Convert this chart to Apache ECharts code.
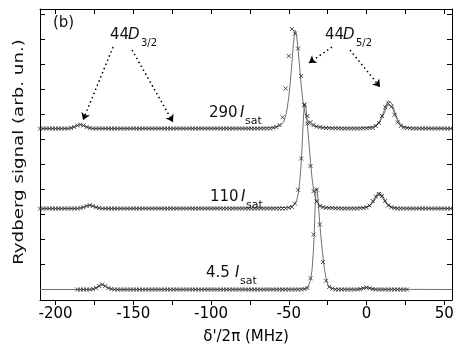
<!DOCTYPE html>
<html>
<head>
<meta charset="utf-8">
<script src="https://cdn.jsdelivr.net/npm/echarts@6.0.0/dist/echarts.min.js"></script>
<style>
html, body { margin: 0; padding: 0; background: #fff; }
#main { width: 463px; height: 354px; }
</style>
</head>
<body>
<div id="main"></div>
<script>
(function () {
    'use strict';

    // measured scans: one point every 2 MHz, signal relative to own baseline
    var scanStep = 2;
    var start290 = -210, start110 = -210, start45 = -186;

    var sig290 = [
        0,0,0,0,0,0,0,0,0,0,                          // -210 .. -192
        0.02,0.06,0.12,0.15,0.12,0.06,0.02,           // -190 .. -178
        0,0,0,0,0,0,0,0,0,0, 0,0,0,0,0,0,0,0,0,0,
        0,0,0,0,0,0,0,0,0,0, 0,0,0,0,0,0,0,0,0,0,
        0,0,0,0,0,0,0,0,0,0, 0,0,0,0,0,0,0,0,        // -176 .. -62
        0.03,0.06,0.14,0.45,1.6,2.9,3.98,3.8,3.2,2.1,
        0.95,0.5,0.25,0.14,0.08,0.05,0.03,            // -60 .. -28
        0.02,0.02,0.01,0.01,0.01,0,0,0,0,0,0,0,0.01,0.01,0.02, // -26 .. 2
        0.03,0.1,0.22,0.5,0.85,1.0,0.88,0.55,0.25,0.1,0.04,    // 4 .. 24
        0.02,0.01,0,0,0,0,0,0,0,0,0,0,0,0,0           // 26 .. 54
    ];

    var sig110 = [
        0,0,0,0,0,0,0,0,0,0,0,0,0,                    // -210 .. -186
        0.02,0.05,0.1,0.13,0.1,0.05,0.02,             // -184 .. -172
        0,0,0,0,0,0,0,0,0,0, 0,0,0,0,0,0,0,0,0,0,
        0,0,0,0,0,0,0,0,0,0, 0,0,0,0,0,0,0,0,0,0,
        0,0,0,0,0,0,0,0,0,0, 0,0,0,0,0,0,0,0,0,0,    // -170 .. -52
        0.03,0.06,0.2,0.75,2.0,4.15,3.4,1.7,0.7,0.28,0.1,0.05, // -50 .. -28
        0.03,0.02,0.02,0.01,0.01,0,0,0,0,0,0,0.01,    // -26 .. -4
        0.02,0.05,0.12,0.3,0.48,0.58,0.5,0.3,0.12,0.05,0.02,   // -2 .. 18
        0,0,0,0,0,0,0,0,0,0, 0,0,0,0,0,0,0,0          // 20 .. 54
    ];

    var sig45 = [
        0,0,0,0,0,                                    // -186 .. -178
        0.02,0.06,0.14,0.2,0.14,0.06,0.02,            // -176 .. -164
        0,0,0,0,0,0,0,0,0,0, 0,0,0,0,0,0,0,0,0,0,
        0,0,0,0,0,0,0,0,0,0, 0,0,0,0,0,0,0,0,0,0,
        0,0,0,0,0,0,0,0,0,0, 0,0,0,0,0,0,0,0,0,0, 0,  // -162 .. -42
        0.02,0.06,0.45,2.2,4.0,2.6,1.1,0.35,0.1,0.04, // -40 .. -22
        0,0,0,0,0,0,0,0,                              // -20 .. -6
        0.02,0.05,0.08,0.05,0.02,                     // -4 .. 4
        0,0,0,0,0,0,0,0,0,0,0                         // 6 .. 26
    ];

    // vertical offsets of the three traces
    var off290 = 6.44, off110 = 3.24, off45 = 0;

    // fitted curves [MHz, signal]
    var fit290 = [[-210,0],[-192,0],[-190,0.02],[-188,0.06],[-186,0.12],[-184,0.16],[-182,0.12],[-180,0.06],[-178,0.02],[-176,0],
        [-70,0.01],[-60,0.04],[-56,0.1],[-54,0.2],[-53,0.3],[-52,0.5],[-51,0.8],[-50,1.25],[-49,1.85],[-48,2.6],[-47,3.4],[-46,3.94],
        [-45,3.75],[-44,3.15],[-43,2.45],[-42,1.75],[-41,1.15],[-40,0.75],[-39,0.48],[-38,0.32],[-36,0.16],[-33,0.08],[-28,0.04],
        [-20,0.02],[-5,0.02],[0,0.03],[4,0.07],[6,0.13],[8,0.26],[9,0.37],[10,0.5],[11,0.66],[12,0.83],[13,0.99],[14,1.1],[14.5,1.14],
        [15,1.12],[16,1.03],[17,0.89],[18,0.71],[19,0.53],[20,0.37],[21,0.25],[22,0.16],[24,0.07],[27,0.03],[35,0.01],[55,0]];
    var fit290b = [[0,0.03],[4,0.06],[6,0.11],[8,0.22],[10,0.43],[11,0.56],[12,0.71],[13,0.85],[14,0.95],[14.5,0.98],[15,0.97],
        [16,0.89],[17,0.77],[18,0.61],[19,0.46],[20,0.32],[22,0.14],[24,0.06],[28,0.02]];

    var fit110 = [[-210,0],[-186,0],[-184,0.02],[-182,0.05],[-180,0.1],[-178,0.13],[-176,0.1],[-174,0.05],[-172,0.02],[-170,0],
        [-60,0.02],[-50,0.05],[-47,0.12],[-45,0.3],[-44,0.55],[-43,1.05],[-42,1.8],[-41.5,2.4],[-41,3.05],[-40.5,3.7],[-40,4.1],
        [-39.5,4.2],[-39,4.05],[-38.5,3.75],[-38,3.35],[-37,2.6],[-36,1.85],[-35,1.2],[-34,0.75],[-33,0.45],[-32,0.28],[-30,0.12],
        [-27,0.05],[-20,0.02],[-8,0.02],[-3,0.03],[0,0.06],[2,0.12],[3,0.18],[4,0.26],[5,0.36],[6,0.48],[7,0.6],[7.5,0.66],[8,0.68],
        [9,0.64],[10,0.55],[11,0.44],[12,0.32],[13,0.22],[14,0.14],[16,0.06],[19,0.02],[25,0.01],[55,0]];
    var fit110b = [[-2,0.03],[2,0.1],[4,0.22],[5,0.3],[6,0.4],[7,0.5],[8,0.56],[9,0.53],[10,0.45],[11,0.36],[12,0.26],[13,0.18],
        [14,0.12],[16,0.05],[20,0.01]];

    var fit45 = [[-210,0],[-178,0],[-175,0.03],[-173,0.08],[-172,0.13],[-171,0.18],[-170,0.2],[-169,0.18],[-168,0.13],[-167,0.08],
        [-165,0.03],[-162,0],[-45,0.01],[-40,0.03],[-38,0.07],[-37,0.15],[-36,0.35],[-35,0.8],[-34,1.7],[-33.5,2.5],[-33,3.35],
        [-32.5,3.95],[-32,4.05],[-31.5,3.85],[-31,3.45],[-30,2.6],[-29,1.9],[-28,1.3],[-27,0.8],[-26,0.45],[-25,0.22],[-24,0.11],
        [-22,0.04],[-18,0.01],[-6,0.01],[-3,0.04],[-1,0.09],[0,0.11],[1,0.09],[3,0.04],[6,0.01],[55,0]];
    var fit45b = [[-6,0.01],[-3,0.03],[-1,0.06],[0,0.07],[1,0.06],[3,0.03],[6,0.01]];

    var xTicks = [-200,-175,-150,-125,-100,-75,-50,-25,0,25,50];
    var xLabels = [-200,-150,-100,-50,0,50];
    var yTicks = [0,1,2,3,4,5,6,7,8,9,10,11];

    // dotted arrows, data coords [from, to]
    var arrows = [
        [[-163,9.7],[-182.3,6.78]],
        [[-150.8,9.58],[-124.5,6.7]],
        [[-22.2,9.7],[-37,9.06]],
        [[-10.6,9.58],[8.7,8.1]]
    ];

    var FONT = '"DejaVu Sans"';

    function scan(start, sig, off) {
        return sig.map(function (v, i) { return [start + i * scanStep, v + off]; });
    }
    function shift(pts, off) {
        return pts.map(function (p) { return [p[0], p[1] + off]; });
    }
    function fitLine(pts, off) {
        return {
            type: 'line', data: shift(pts, off), symbol: 'none', showSymbol: false,
            lineStyle: { color: '#707070', width: 1 }, silent: true, animation: false, z: 2
        };
    }
    function markers(pts) {
        return {
            type: 'scatter', data: pts, symbol: 'path://M0,0L10,10M10,0L0,10', symbolSize: 4,
            itemStyle: { color: 'none', borderColor: '#222', borderWidth: 1 },
            silent: true, animation: false, z: 3
        };
    }
    function txt(x, y, s, size, italic) {
        return {
            type: 'text', x: x, y: y, silent: true,
            style: {
                text: s, font: (italic ? 'italic ' : '') + size + 'px ' + FONT, fill: '#111',
                textAlign: 'left', align: 'left', textVerticalAlign: 'middle', verticalAlign: 'middle'
            }
        };
    }

    var dom = document.getElementById('main');
    var myChart = echarts.init(dom, null, { renderer: 'canvas' });

    var axisLine = { show: true, onZero: false, lineStyle: { color: '#000', width: 1 } };

    var fit45Series = fitLine(fit45, off45);
    fit45Series.markLine = {
        silent: true, animation: false,
        symbol: ['none', 'arrow'], symbolSize: 7,
        label: { show: false },
        lineStyle: { color: '#000', width: 1.5, type: [1.5, 3] },
        data: arrows.map(function (a) { return [{ coord: a[0] }, { coord: a[1] }]; })
    };

    var option = {
        animation: false,
        grid: { left: 40, right: 11, top: 9, bottom: 54 },
        xAxis: [{
            type: 'value', min: -210, max: 55, position: 'bottom',
            axisLine: axisLine,
            axisTick: { show: true, inside: false, length: 5, customValues: xTicks, lineStyle: { color: '#000' } },
            axisLabel: { customValues: xLabels, color: '#000', fontFamily: FONT, fontSize: 15, margin: 7 },
            splitLine: { show: false },
            name: "δ'/2π (MHz)", nameLocation: 'middle', nameGap: 30,
            nameTextStyle: { color: '#000', fontFamily: FONT, fontSize: 15 }
        }, {
            type: 'value', min: -210, max: 55, position: 'top',
            axisLine: axisLine,
            axisTick: { show: true, inside: true, length: 5, customValues: xTicks, lineStyle: { color: '#000' } },
            axisLabel: { show: false },
            splitLine: { show: false }
        }],
        yAxis: [{
            type: 'value', min: -0.42, max: 11.22, position: 'left',
            axisLine: axisLine,
            axisTick: { show: true, inside: true, length: 5, customValues: yTicks, lineStyle: { color: '#000' } },
            axisLabel: { show: false },
            splitLine: { show: false }
        }, {
            type: 'value', min: -0.42, max: 11.22, position: 'right',
            axisLine: axisLine,
            axisTick: { show: true, inside: true, length: 5, customValues: yTicks, lineStyle: { color: '#000' } },
            axisLabel: { show: false },
            splitLine: { show: false }
        }],
        series: [
            fitLine(fit290, off290), fitLine(fit290b, off290),
            fitLine(fit110, off110), fitLine(fit110b, off110),
            fit45Series, fitLine(fit45b, off45),
            markers(scan(start290, sig290, off290)),
            markers(scan(start110, sig110, off110)),
            markers(scan(start45, sig45, off45))
        ],
        graphic: [
            {
                type: 'text', x: 19, y: 152, rotation: Math.PI / 2, scaleX: 1.3, silent: true,
                style: {
                    text: 'Rydberg signal (arb. un.)', font: '14px ' + FONT, fill: '#111',
                    textAlign: 'center', align: 'center', textVerticalAlign: 'middle', verticalAlign: 'middle'
                }
            },
            txt(53, 23, '(b)', 15),
            txt(110, 35, '44', 15), txt(128, 35, 'D', 15, true), txt(141, 43, '3/2', 10),
            txt(325, 35, '44', 15), txt(343, 35, 'D', 15, true), txt(356, 43, '5/2', 10),
            txt(209, 113, '290', 15), txt(240, 113, 'I', 15, true), txt(245, 121, 'sat', 11),
            txt(210, 197, '110', 15), txt(241, 197, 'I', 15, true), txt(246, 205, 'sat', 11),
            txt(206, 273, '4.5', 15), txt(235, 273, 'I', 15, true), txt(240, 281, 'sat', 11)
        ]
    };
    myChart.setOption(option, true);
}());
</script>
</body>
</html>
